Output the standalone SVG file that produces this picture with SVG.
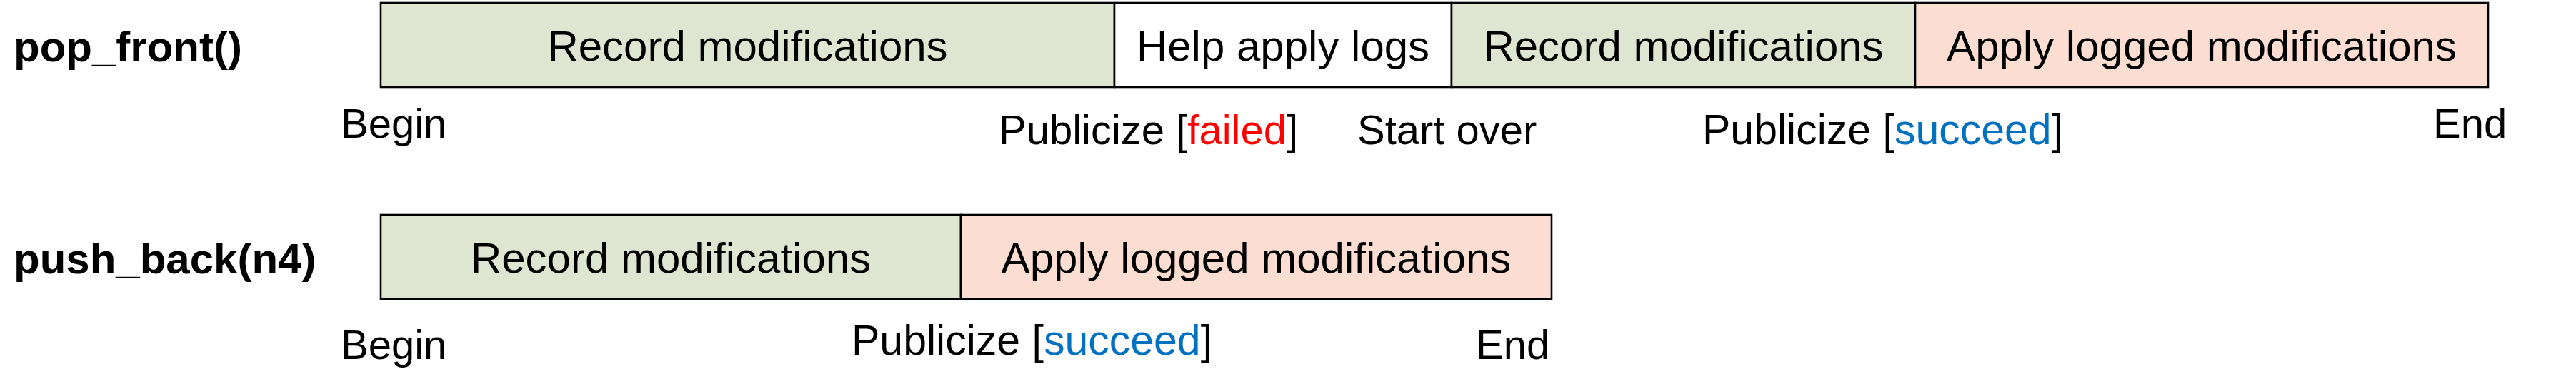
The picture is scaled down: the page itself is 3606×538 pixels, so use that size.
<svg xmlns="http://www.w3.org/2000/svg" width="3606" height="538" viewBox="0 0 3606 538">
<style>
text{font-family:"Liberation Sans",Arial,sans-serif;font-size:58px;fill:#000}
.lbl{font-weight:bold;font-size:60px}
.bx{font-size:60px;text-anchor:middle}
.s59{font-size:59px}
.seg{stroke:#000;stroke-width:2.6}
.g{fill:#DEE6D1}
.w{fill:#FFFFFF}
.o{fill:#FCDDD2}
.red{fill:#FF0000}
.blue{fill:#0070C0}
</style>
<rect width="3606" height="538" fill="#FFFFFF"/>
<g id="connectors"></g>
<g id="pop_front">
  <text class="lbl" x="19" y="86">pop_front()</text>
</g>
<g id="pf_record1">
  <rect class="seg g" x="533" y="4" width="1027" height="118"/>
  <text class="bx" x="1046.5" y="85">Record modifications</text>
</g>
<g id="pf_help">
  <rect class="seg w" x="1560" y="4" width="472" height="118"/>
  <text class="bx" x="1796" y="85">Help apply logs</text>
</g>
<g id="pf_record2">
  <rect class="seg g" x="2032" y="4" width="649" height="118"/>
  <text class="bx" x="2356.5" y="85">Record modifications</text>
</g>
<g id="pf_apply">
  <rect class="seg o" x="2681" y="4" width="802" height="118"/>
  <text class="bx" x="3082" y="85">Apply logged modifications</text>
</g>
<g id="pf_labels">
  <text x="477" y="193">Begin</text>
  <text x="1398" y="202">Publicize [<tspan class="red">failed</tspan>]</text>
  <text x="1900" y="202">Start over</text>
  <text class="s59" x="2383" y="202">Publicize [<tspan class="blue">succeed</tspan>]</text>
  <text x="3406" y="193">End</text>
</g>
<g id="push_back">
  <text class="lbl" x="19" y="383">push_back(n4)</text>
</g>
<g id="pb_record">
  <rect class="seg g" x="533" y="301" width="812" height="118"/>
  <text class="bx" x="939" y="382">Record modifications</text>
</g>
<g id="pb_apply">
  <rect class="seg o" x="1345" y="301" width="827" height="118"/>
  <text class="bx" x="1758.5" y="382">Apply logged modifications</text>
</g>
<g id="pb_labels">
  <text x="477" y="503">Begin</text>
  <text class="s59" x="1192" y="497">Publicize [<tspan class="blue">succeed</tspan>]</text>
  <text x="2066" y="503">End</text>
</g>
</svg>
